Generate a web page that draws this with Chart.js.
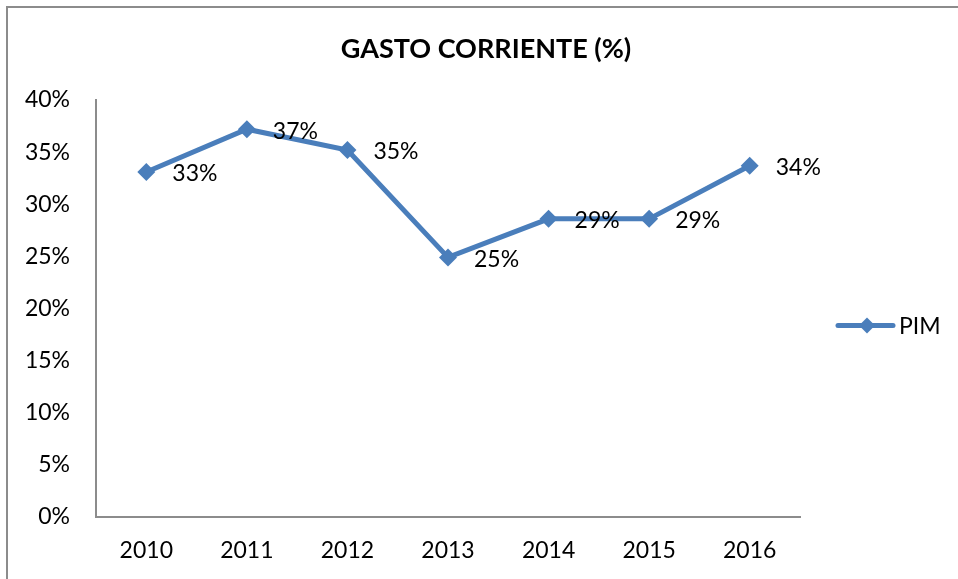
<!DOCTYPE html>
<html>
<head>
<meta charset="utf-8">
<script src="https://cdn.jsdelivr.net/npm/chart.js@4.4.1/dist/chart.umd.min.js"></script>
<style>
  html, body { margin: 0; padding: 0; background: #fff; overflow: hidden; }
  #frame { position: absolute; left: 6px; top: 6px; width: 1000px; height: 1000px; border: 2px solid #8c8c8c; box-sizing: border-box; }
  #wrap { position: absolute; left: 0; top: 0; width: 958px; height: 579px; }
</style>
</head>
<body>
<div id="frame"></div>
<div id="wrap"><canvas id="c" width="958" height="579"></canvas></div>
<script>
const categories = ['2010', '2011', '2012', '2013', '2014', '2015', '2016'];
const pimValues = [33.1, 37.2, 35.2, 24.9, 28.6, 28.6, 33.7];
const pimLabels = ['33%', '37%', '35%', '25%', '29%', '29%', '34%'];
const seriesName = 'PIM';
const chartTitle = 'GASTO CORRIENTE (%)';

const FONT = 'Lato, "Open Sans", sans-serif';
const BLUE = '#4a7ebb';

const titlePlugin = {
  id: 'centeredTitle',
  afterDraw(chart) {
    const ctx = chart.ctx;
    ctx.save();
    ctx.font = 'bold 27px ' + FONT;
    ctx.fillStyle = '#000';
    ctx.textAlign = 'center';
    ctx.textBaseline = 'middle';
    ctx.fillText(chartTitle, chart.width / 2 + 7, 49);
    ctx.restore();
  }
};

const labelPlugin = {
  id: 'pointLabels',
  afterDatasetsDraw(chart) {
    const ctx = chart.ctx;
    const meta = chart.getDatasetMeta(0);
    ctx.save();
    ctx.font = '23px ' + FONT;
    ctx.fillStyle = '#000';
    ctx.textAlign = 'left';
    ctx.textBaseline = 'middle';
    meta.data.forEach((pt, i) => {
      ctx.fillText(pimLabels[i], pt.x + 26, pt.y + 2);
    });
    ctx.restore();
  }
};

const legendPlugin = {
  id: 'customLegend',
  afterDraw(chart) {
    const ctx = chart.ctx;
    const area = chart.chartArea;
    const y = (area.top + area.bottom) / 2 + 17;
    const x0 = area.right + 38;
    ctx.save();
    ctx.strokeStyle = BLUE;
    ctx.lineWidth = 5;
    ctx.lineCap = 'round';
    ctx.beginPath();
    ctx.moveTo(x0, y);
    ctx.lineTo(x0 + 55, y);
    ctx.stroke();
    ctx.fillStyle = BLUE;
    ctx.beginPath();
    const cx = x0 + 29, r = 8;
    ctx.moveTo(cx - r, y); ctx.lineTo(cx, y - r); ctx.lineTo(cx + r, y); ctx.lineTo(cx, y + r);
    ctx.closePath();
    ctx.fill();
    ctx.fillStyle = '#000';
    ctx.font = '23px ' + FONT;
    ctx.textAlign = 'left';
    ctx.textBaseline = 'middle';
    ctx.fillText(seriesName, x0 + 61, y + 1);
    ctx.restore();
  }
};

new Chart(document.getElementById('c'), {
  type: 'line',
  data: {
    labels: categories,
    datasets: [{
      label: seriesName,
      data: pimValues,
      borderColor: BLUE,
      backgroundColor: BLUE,
      borderWidth: 5,
      pointStyle: 'rectRot',
      pointRadius: 9,
      pointBorderWidth: 0,
      pointHoverRadius: 9,
      tension: 0
    }]
  },
  options: {
    responsive: false,
    animation: false,
    events: [],
    layout: { padding: { left: 0, right: 158, top: 100, bottom: 0 } },
    plugins: {
      legend: { display: false },
      tooltip: { enabled: false },
      title: { display: false }
    },
    scales: {
      x: {
        offset: true,
        grid: { display: false, drawTicks: false },
        border: { display: true, color: '#8c8c8c', width: 2 },
        ticks: { color: '#000', font: { family: FONT, size: 23 }, padding: 20, maxRotation: 0 },
        afterFit(scale) { scale.height = 62; }
      },
      y: {
        min: 0,
        max: 40,
        grid: { display: false, drawTicks: false },
        border: { display: true, color: '#8c8c8c', width: 2 },
        ticks: {
          stepSize: 5,
          color: '#000',
          font: { family: FONT, size: 23 },
          padding: 26,
          callback: v => v + '%'
        },
        afterFit(scale) { scale.width = 96; }
      }
    }
  },
  plugins: [labelPlugin, legendPlugin, titlePlugin]
});
</script>
</body>
</html>
